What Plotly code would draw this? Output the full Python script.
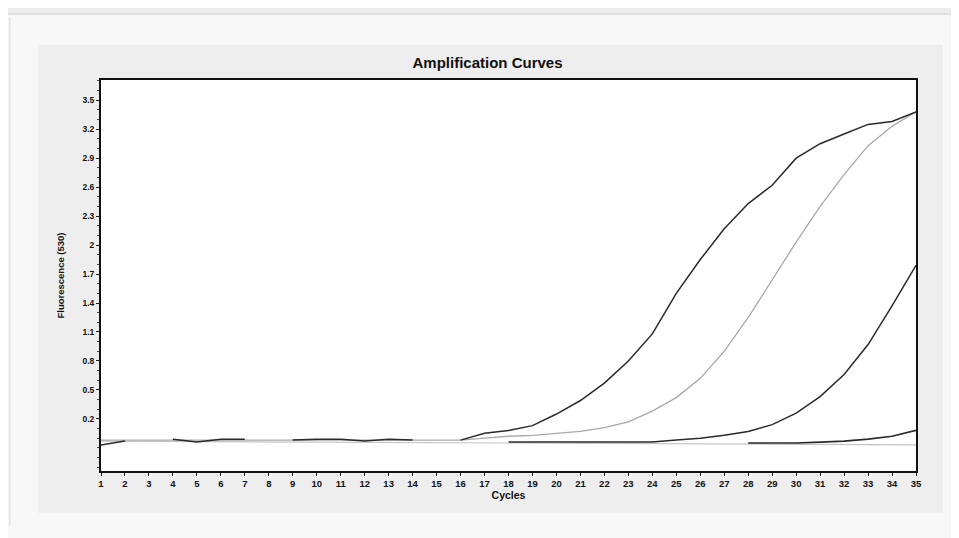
import plotly.graph_objects as go

cycles = list(range(1, 36))

# Earliest (dark) amplification curve, including the noisy early baseline
curve_a = [-0.07, -0.03, None, -0.01, -0.04, -0.01, -0.01, None, -0.02, -0.01,
           -0.01, -0.03, -0.01, -0.02, None, -0.02, 0.05, 0.08, 0.13, 0.25,
           0.39, 0.57, 0.80, 1.08, 1.50, 1.85, 2.17, 2.43, 2.62, 2.90,
           3.05, 3.15, 3.25, 3.28, 3.38]

# Light grey curve
curve_b = [-0.02, -0.02, -0.02, -0.02, -0.02, -0.02, -0.02, -0.02, -0.02, -0.02,
           -0.02, -0.02, -0.02, -0.02, -0.02, -0.02, 0.00, 0.02, 0.03, 0.05,
           0.07, 0.11, 0.17, 0.28, 0.42, 0.62, 0.90, 1.25, 1.64, 2.03,
           2.40, 2.73, 3.03, 3.23, 3.38]

# Later dark curve
cycles_c = list(range(18, 36))
curve_c = [-0.04, -0.04, -0.04, -0.04, -0.04, -0.04, -0.04, -0.02, 0.00, 0.03,
           0.07, 0.14, 0.26, 0.43, 0.66, 0.97, 1.37, 1.79]

# Latest dark curve
cycles_d = list(range(28, 36))
curve_d = [-0.05, -0.05, -0.05, -0.04, -0.03, -0.01, 0.02, 0.08]

# Grey baseline
cycles_e = [1, 35]
curve_e = [-0.03, -0.07]

y_ticks = [0.2, 0.5, 0.8, 1.1, 1.4, 1.7, 2.0, 2.3, 2.6, 2.9, 3.2, 3.5]
y_tick_labels = ["0.2", "0.5", "0.8", "1.1", "1.4", "1.7", "2", "2.3", "2.6", "2.9", "3.2", "3.5"]

fig = go.Figure()
fig.add_trace(go.Scatter(x=cycles_e, y=curve_e, mode="lines",
                         line=dict(color="#c4c4c4", width=1.2), hoverinfo="skip"))
fig.add_trace(go.Scatter(x=cycles, y=curve_b, mode="lines",
                         line=dict(color="#a8a8a8", width=1.3), name="B"))
fig.add_trace(go.Scatter(x=cycles, y=curve_a, mode="lines",
                         line=dict(color="#2a2a2a", width=1.5), name="A"))
fig.add_trace(go.Scatter(x=cycles_c, y=curve_c, mode="lines",
                         line=dict(color="#2a2a2a", width=1.5), name="C"))
fig.add_trace(go.Scatter(x=cycles_d, y=curve_d, mode="lines",
                         line=dict(color="#2a2a2a", width=1.7), name="D"))

bold = "Liberation Sans"

fig.update_layout(
    width=959, height=538,
    margin=dict(l=93, r=51, t=72, b=75),
    paper_bgcolor="#f8f8f8",
    plot_bgcolor="#ffffff",
    showlegend=False,
    title=dict(text="<b>Amplification Curves</b>", x=0.5, xanchor="center",
               y=0.898, yanchor="middle",
               font=dict(family=bold, size=15, color="#111111")),
    shapes=[
        dict(type="rect", xref="paper", yref="paper", x0=-0.2, x1=1.1,
             y0=1.17, y1=1.3, fillcolor="#ededed", line=dict(width=0),
             layer="below"),
        dict(type="rect", xref="paper", yref="paper", x0=-0.0773, x1=1.033,
             y0=-0.107, y1=1.0895, fillcolor="#eeeeee", line=dict(width=0),
             layer="below"),
        dict(type="rect", xref="paper", yref="paper", x0=0, x1=1,
             y0=0, y1=1, fillcolor="#ffffff", line=dict(width=0),
             layer="below"),
        dict(type="line", xref="paper", yref="paper", x0=-0.124, x1=1.053,
             y0=1.169, y1=1.169, line=dict(color="#d6d6d6", width=1.5)),
        dict(type="line", xref="paper", yref="paper", x0=-0.112, x1=-0.112,
             y0=-0.14, y1=1.16, line=dict(color="#e2e2e2", width=1.5)),
    ],
)

fig.update_xaxes(
    range=[1, 35], tickmode="array", tickvals=cycles,
    ticktext=[f"<b>{c}</b>" for c in cycles],
    tickfont=dict(family=bold, size=9.5, color="#111111"),
    ticks="outside", ticklen=3, tickcolor="#222222",
    showgrid=False, zeroline=False,
    showline=True, linecolor="#111111", linewidth=2, mirror=True,
    title=dict(text="<b>Cycles</b>", font=dict(family=bold, size=10.5, color="#111111"),
               standoff=1),
)
fig.update_yaxes(
    range=[-0.34, 3.71], tickmode="array", tickvals=y_ticks,
    ticktext=[f"<b>{t}</b>" for t in y_tick_labels],
    tickfont=dict(family=bold, size=8.5, color="#111111"),
    ticks="outside", ticklen=3, tickcolor="#222222",
    minor=dict(ticks="outside", ticklen=2, dtick=0.1, tickcolor="#444444"),
    showgrid=False, zeroline=False,
    showline=True, linecolor="#111111", linewidth=2, mirror=True,
    title=dict(text="<b>Fluorescence (530)</b>",
               font=dict(family=bold, size=9.5, color="#111111"), standoff=16),
)

fig.write_html("out.html")
